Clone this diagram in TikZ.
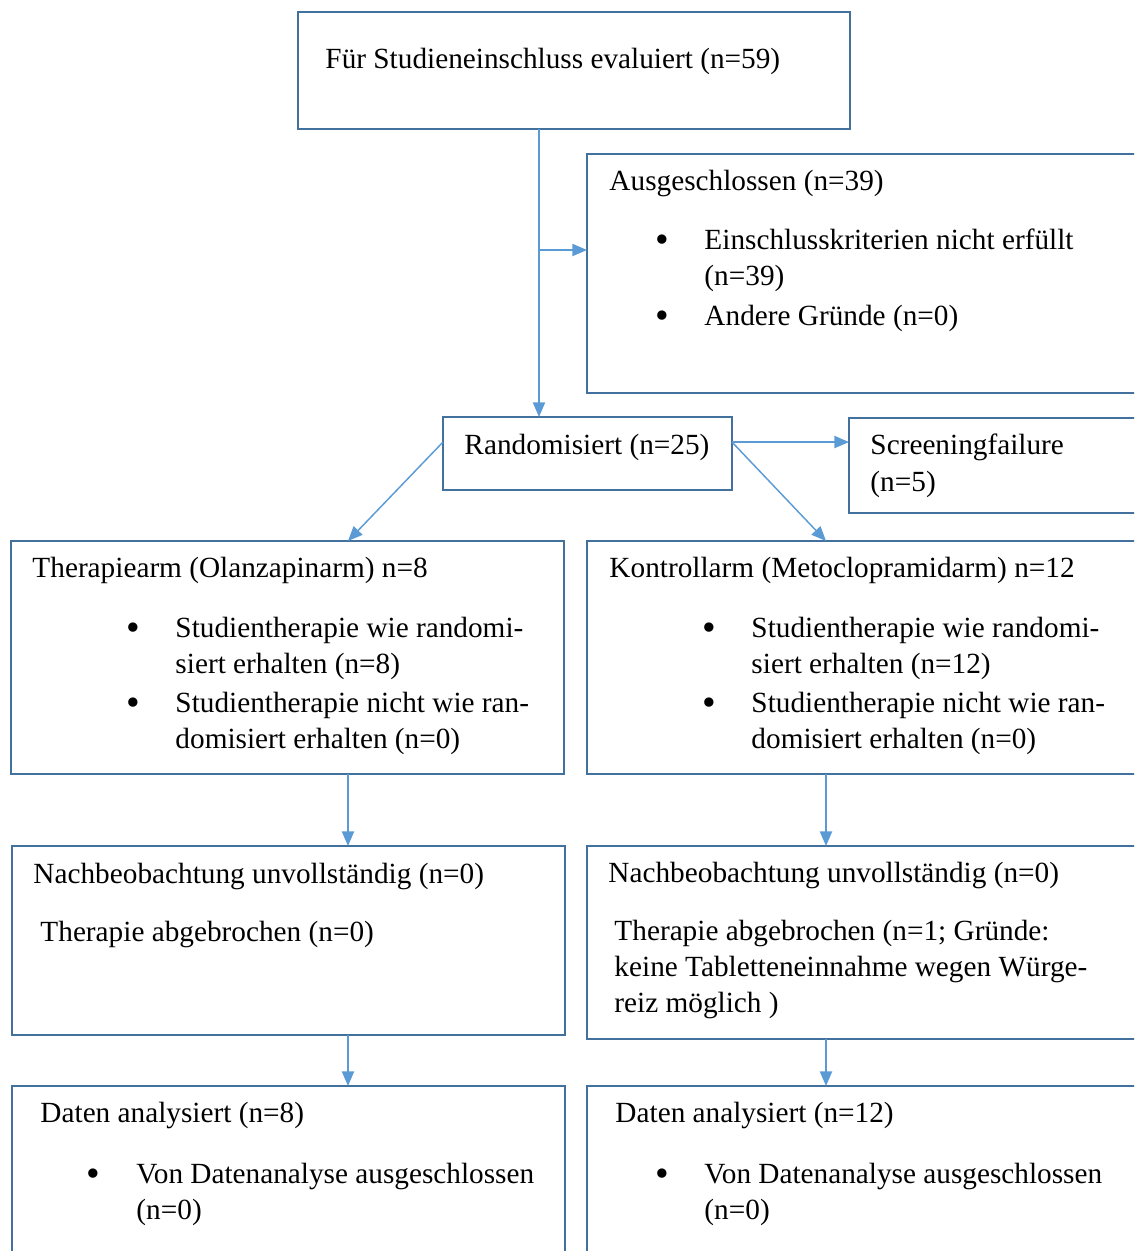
\documentclass[tikz,border=0pt]{standalone}
\usepackage{fontspec}
\setmainfont{Liberation Serif}
\usetikzlibrary{arrows.meta,calc,fit}
\definecolor{boxblue}{RGB}{65,113,156}
\definecolor{arrblue}{RGB}{91,155,213}

\begin{document}
\begin{tikzpicture}[x=0.41pt,y=-0.41pt]
   \useasboundingbox (0,0) rectangle (1134,1251);
   \clip (0,0) rectangle (1134,1251);
   \tikzstyle{box}=[draw=boxblue, line width=1.2pt, inner sep=0pt, outer sep=0pt]
   \tikzstyle{txt}=[anchor=base west, inner sep=0pt, font=\fontsize{12}{14.8}\selectfont]
   \tikzstyle{dot}=[anchor=base, inner sep=0pt, yshift=-1.6pt, font=\fontsize{16}{16}\selectfont]
   \tikzstyle{arr}=[draw=arrblue, line width=0.6pt, -{Triangle[length=6pt,width=5pt]}]
   % boxes
   \node[box, fit={(298,12) (850,129)}] (eval) {};
   \node[box, fit={(587,154) (1160,393)}] (excl) {};
   \node[box, fit={(443,417) (732,490)}] (rand) {};
   \node[box, fit={(849,418) (1160,513)}] (screen) {};
   \node[box, fit={(11,541) (564,774)}] (thera) {};
   \node[box, fit={(587,541) (1160,774)}] (kontr) {};
   \node[box, fit={(12,846) (565,1035)}] (followL) {};
   \node[box, fit={(587,846) (1160,1039)}] (followR) {};
   \node[box, fit={(12,1086) (565,1280)}] (dataL) {};
   \node[box, fit={(587,1086) (1160,1280)}] (dataR) {};
   % texts
   \foreach \x/\y/\line [count=\i] in {
       325/68/{Für Studieneinschluss evaluiert (n=59)},
       609/190/{Ausgeschlossen (n=39)},
       704/249/{Einschlusskriterien nicht erfüllt},
       704/285/{(n=39)},
       704/325/{Andere Gründe (n=0)},
       464/454/{Randomisiert (n=25)},
       870/454/{Screeningfailure},
       870/491/{(n=5)},
       32/577/{Therapiearm (Olanzapinarm) n=8},
       175/637/{Studientherapie wie randomi-},
       175/673/{siert erhalten (n=8)},
       175/712/{Studientherapie nicht wie ran-},
       175/748/{domisiert erhalten (n=0)},
       609/577/{Kontrollarm (Metoclopramidarm) n=12},
       751/637/{Studientherapie wie randomi-},
       751/673/{siert erhalten (n=12)},
       751/712/{Studientherapie nicht wie ran-},
       751/748/{domisiert erhalten (n=0)},
       33/883/{Nachbeobachtung unvollständig (n=0)},
       40/941/{Therapie abgebrochen (n=0)},
       608/882/{Nachbeobachtung unvollständig (n=0)},
       614/940/{Therapie abgebrochen (n=1; Gründe:},
       614/976/{keine Tabletteneinnahme wegen Würge-},
       614/1012/{reiz möglich )},
       40/1122/{Daten analysiert (n=8)},
       136/1183/{Von Datenanalyse ausgeschlossen},
       136/1219/{(n=0)},
       615/1122/{Daten analysiert (n=12)},
       704/1183/{Von Datenanalyse ausgeschlossen},
       704/1219/{(n=0)}} {
       \node[txt] (t\i) at (\x,\y) {\line};
   }
   \foreach \x/\y [count=\i] in {662/249,662/325,133/637,133/712,709/637,709/712,93/1183,662/1183} {
       \node[dot] (b\i) at (\x,\y) {\textbullet};
   }
   % connectors
   \coordinate (split) at (539,250);
   \coordinate (lx) at (348,0);
   \coordinate (rx) at (826,0);
   \draw[draw=arrblue, line width=0.6pt] (eval.south -| split) -- (split);
   \draw[arr] (split) -- (rand.north -| split);
   \draw[arr] (split) -- (split -| excl.west);
   \draw[arr] ([yshift=4.7pt]rand.east) -- ([yshift=4.7pt]rand.east -| screen.west);
   \draw[arr] ([yshift=4.7pt]rand.west) -- (thera.north -| lx);
   \draw[arr] ([yshift=4.7pt]rand.east) -- (kontr.north -| rx);
   \draw[arr] (thera.south -| lx) -- (followL.north -| lx);
   \draw[arr] (kontr.south -| rx) -- (followR.north -| rx);
   \draw[arr] (followL.south -| lx) -- (dataL.north -| lx);
   \draw[arr] (followR.south -| rx) -- (dataR.north -| rx);
\end{tikzpicture}
\end{document}
